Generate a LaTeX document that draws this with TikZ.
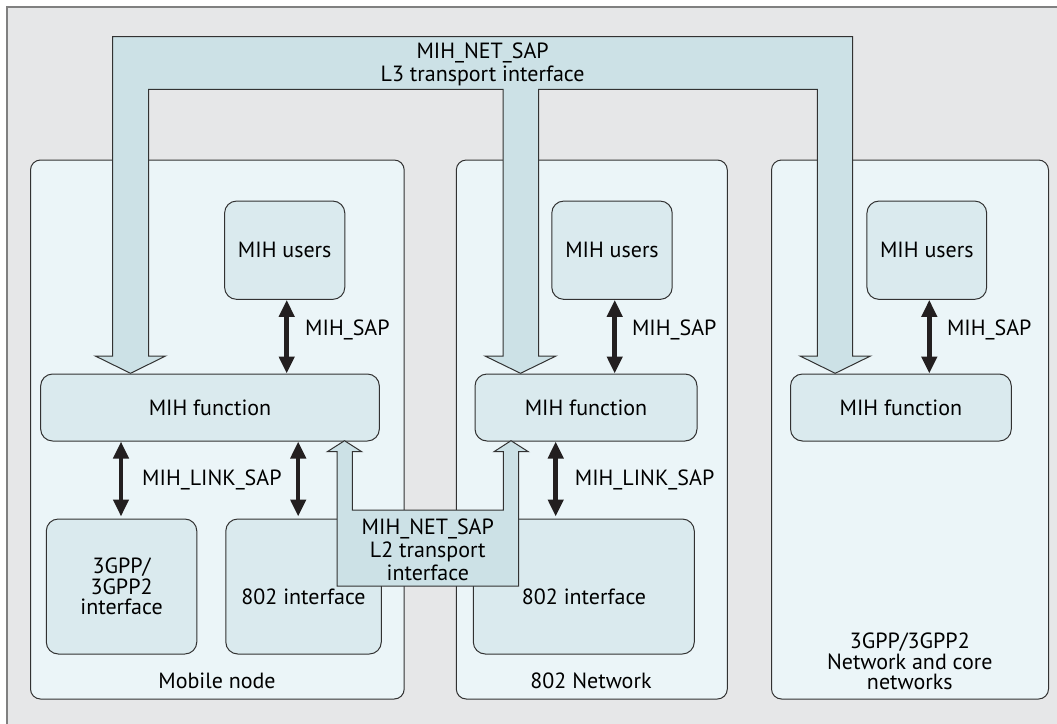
\documentclass[tikz,border=0pt]{standalone}
\usepackage{fontspec}
\setmainfont{PT Sans}
\usetikzlibrary{arrows.meta,calc}
\definecolor{bg}{RGB}{230,231,232}
\definecolor{contfill}{RGB}{235,245,248}
\definecolor{boxfill}{RGB}{218,234,238}
\definecolor{arrfill}{RGB}{204,225,230}
\definecolor{lc}{RGB}{50,50,50}
\definecolor{framec}{RGB}{128,128,128}
\definecolor{blk}{RGB}{35,31,32}
\begin{document}
\begin{tikzpicture}[x=1pt,y=-1pt,
 txt/.style={font=\fontsize{22}{20.3}\selectfont, inner sep=0pt, align=center, text=black},
 txtw/.style={font=\fontsize{22}{23}\selectfont, inner sep=0pt, align=center, text=black},
 contbox/.style={draw=lc, fill=contfill, rounded corners=10pt, line width=1pt},
 innerbox/.style={draw=lc, fill=boxfill, rounded corners=12pt, line width=1pt, txt},
 dbl/.style={draw=blk, line width=4.5pt, {Triangle[length=17pt,width=15pt]}-{Triangle[length=17pt,width=15pt]}},
 bigarrow/.style={draw=lc, fill=arrfill, line width=1pt, line join=miter},
]
\useasboundingbox (0,0) rectangle (1057,723);
\fill[white] (0,0) rectangle (1057,723);
\begin{scope}
\clip (0,0) rectangle (1057,723);
\draw[framec, line width=2pt, fill=bg] (6.5,7) rectangle (1070,740);
\end{scope}

% containers
\node[contbox, minimum width=373.7pt, minimum height=539pt] (c1) at (217.35,429.5) {};
\node[contbox, minimum width=271pt, minimum height=539pt] (c2) at (591.8,429.5) {};
\node[contbox, minimum width=277pt, minimum height=539pt] (c3) at (910,429.5) {};

\node[txt] (c1t) at (217,681) {Mobile node};
\node[txt] (c2t) at (591,681) {802 Network};
\node[txt] (c3t) at (909.8,661.5) {3GPP/3GPP2\\Network and core\\networks};

% MIH users
\node[innerbox, minimum width=120.2pt, minimum height=98.3pt] (u1) at (284.7,250.2) {MIH users};
\node[innerbox, minimum width=120.4pt, minimum height=98.3pt] (u2) at (612,250.2) {MIH users};
\node[innerbox, minimum width=119.7pt, minimum height=98.3pt] (u3) at (926.8,250.2) {MIH users};

% MIH function
\node[innerbox, minimum width=338.7pt, minimum height=67pt] (f1) at (210,407.5) {MIH function};
\node[innerbox, minimum width=222pt, minimum height=67pt] (f2) at (586,407.5) {MIH function};
\node[innerbox, minimum width=220.8pt, minimum height=67pt] (f3) at (900.9,407.5) {MIH function};

% interfaces
\node[innerbox, minimum width=150.5pt, minimum height=135pt] (g1) at (121.55,586.5) {3GPP/\\3GPP2\\interface};
\node[innerbox, minimum width=155.5pt, minimum height=135pt] (i1) at (303.55,586.5) {};
\node[innerbox, minimum width=221pt, minimum height=135pt] (i2) at (583.8,586.5) {};
\node[txt] (i1t) at (303.5,596.5) {802 interface};
\node[txt] (i2t) at (584,596.5) {802 interface};

% MIH_SAP arrows
\coordinate (sa) at (286.7,0);
\coordinate (sb) at (614.7,0);
\coordinate (sc) at (929.3,0);
\draw[dbl] (u1.south -| sa) -- (f1.north -| sa);
\draw[dbl] (u2.south -| sb) -- (f2.north -| sb);
\draw[dbl] (u3.south -| sc) -- (f3.north -| sc);
\node[txt, anchor=west] (sl1) at (305,330) {MIH\_SAP};
\node[txt, anchor=west] (sl2) at (631.8,330) {MIH\_SAP};
\node[txt, anchor=west] (sl3) at (946.8,330) {MIH\_SAP};

% MIH_LINK_SAP arrows
\coordinate (ka) at (121,0);
\coordinate (kb) at (298.2,0);
\coordinate (kc) at (555.7,0);
\draw[dbl] (f1.south -| ka) -- ($(g1.north -| ka)+(0,-2)$);
\draw[dbl] (f1.south -| kb) -- ($(i1.north -| kb)+(0,-2)$);
\draw[dbl] (f2.south -| kc) -- ($(i2.north -| kc)+(0,-2)$);
\node[txt, anchor=west] (kl1) at (142,480) {MIH\_LINK\_SAP};
\node[txt, anchor=west] (kl2) at (574.7,480) {MIH\_LINK\_SAP};

% L3 transport shape
\draw[bigarrow] (112.6,356) -- (112.6,36.7) -- (852.7,36.7) -- (852.7,356) -- (870.5,356)
  -- (835.2,373.3) -- (800,356) -- (817.4,356) -- (817.4,89.3) -- (538.6,89.3) -- (538.6,356)
  -- (556,356) -- (520.5,373.3) -- (485,356) -- (503,356) -- (503,89.3) -- (148.5,89.3)
  -- (148.5,356) -- (165.6,356) -- (130.5,373.3) -- (95.3,356) -- cycle;
\node[txtw] (l3t) at (482.6,64.5) {MIH\_NET\_SAP\\L3 transport interface};

% L2 transport shape
\draw[bigarrow] (337,586) -- (337,451.7) -- (327.3,451.7) -- (344.5,440.7) -- (361.7,451.7)
  -- (352.3,451.7) -- (352.3,510) -- (503.3,510) -- (503.3,451.7) -- (494,451.7)
  -- (511,440.7) -- (528.3,451.7) -- (518.7,451.7) -- (518.7,586) -- cycle;
\node[txtw] (l2t) at (427.8,549.5) {MIH\_NET\_SAP\\L2 transport\\interface};
\end{tikzpicture}
\end{document}
